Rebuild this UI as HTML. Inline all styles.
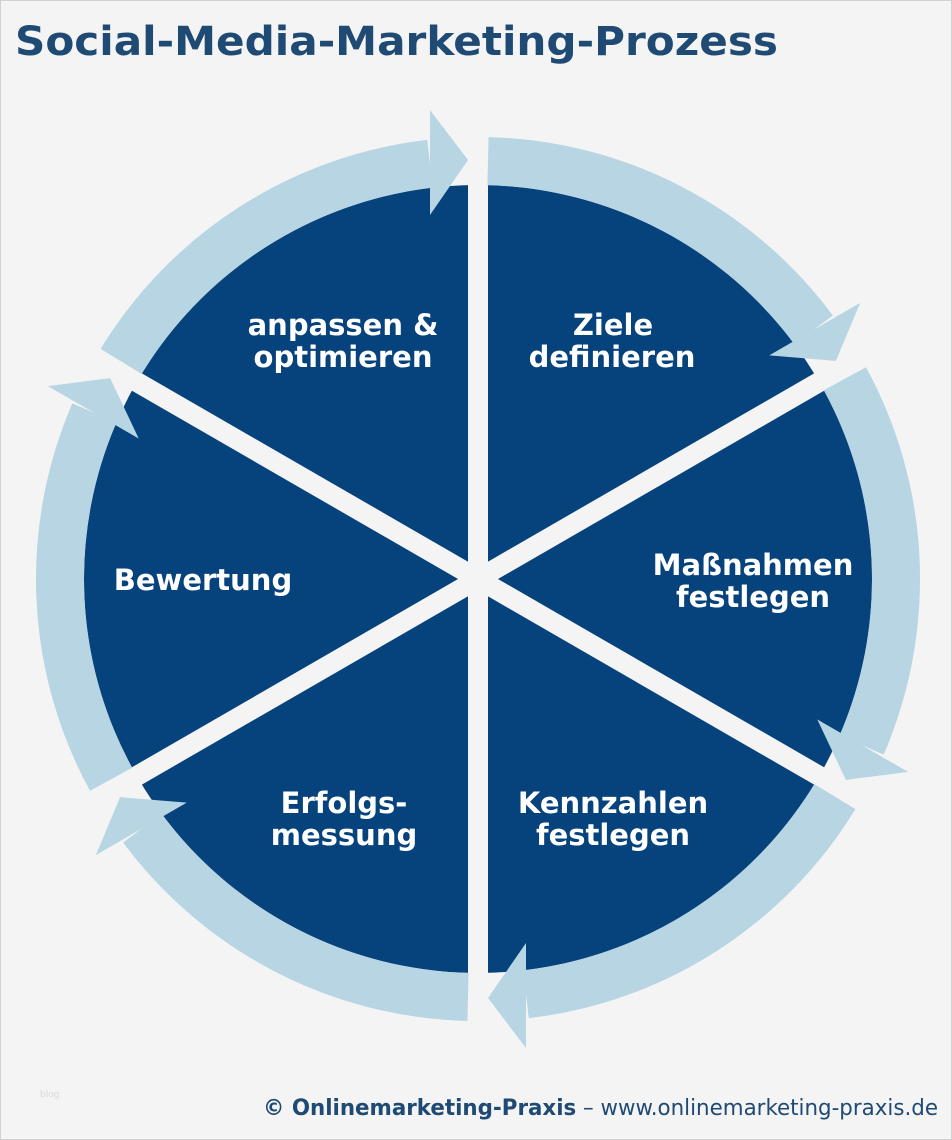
<!DOCTYPE html>
<html><head><meta charset="utf-8"><style>
html,body{margin:0;padding:0;background:#f4f4f4;}
svg{display:block;}
</style></head><body>
<svg width="952" height="1140" viewBox="0 0 952 1140" xmlns="http://www.w3.org/2000/svg">
<rect x="0.5" y="0.5" width="951" height="1139" fill="#f4f4f4" stroke="#d0d0d0"/>
<text x="15" y="55" font-family="DejaVu Sans, Liberation Sans, sans-serif" font-weight="bold" font-size="40" fill="#1f4a73" textLength="763" lengthAdjust="spacingAndGlyphs">Social-Media-Marketing-Prozess</text>
<circle cx="478" cy="579" r="394" fill="#06427c"/>
<g stroke="#f4f4f4" stroke-width="20">
<line x1="478" y1="579" x2="478" y2="100"/>
<line x1="478" y1="579" x2="478" y2="100" transform="rotate(60 478 579)"/>
<line x1="478" y1="579" x2="478" y2="100" transform="rotate(120 478 579)"/>
<line x1="478" y1="579" x2="478" y2="100" transform="rotate(180 478 579)"/>
<line x1="478" y1="579" x2="478" y2="100" transform="rotate(240 478 579)"/>
<line x1="478" y1="579" x2="478" y2="100" transform="rotate(300 478 579)"/>
</g>
<g fill="none" stroke="#b7d5e2" stroke-width="48">
<path d="M488,161.1 A418,418 0 0 1 813.6,329.8"/>
<path d="M488,161.1 A418,418 0 0 1 813.6,329.8" transform="rotate(60 478 579)"/>
<path d="M488,161.1 A418,418 0 0 1 813.6,329.8" transform="rotate(120 478 579)"/>
<path d="M488,161.1 A418,418 0 0 1 813.6,329.8" transform="rotate(180 478 579)"/>
<path d="M488,161.1 A418,418 0 0 1 813.6,329.8" transform="rotate(240 478 579)"/>
<path d="M488,161.1 A418,418 0 0 1 813.6,329.8" transform="rotate(300 478 579)"/>
</g>
<g fill="#b7d5e2">
<polygon points="430,110 468,160 430,215"/>
<polygon points="430,110 468,160 430,215" transform="rotate(60 478 579)"/>
<polygon points="430,110 468,160 430,215" transform="rotate(120 478 579)"/>
<polygon points="430,110 468,160 430,215" transform="rotate(180 478 579)"/>
<polygon points="430,110 468,160 430,215" transform="rotate(240 478 579)"/>
<polygon points="430,110 468,160 430,215" transform="rotate(300 478 579)"/>
</g>
<g font-family="DejaVu Sans, Liberation Sans, sans-serif" font-weight="bold" font-size="29" fill="#ffffff" text-anchor="middle">
<text x="343" y="335">anpassen &amp;</text>
<text x="343" y="367">optimieren</text>
<text x="613" y="335">Ziele</text>
<text x="612" y="367">definieren</text>
<text x="753" y="575">Maßnahmen</text>
<text x="753" y="607">festlegen</text>
<text x="613" y="813">Kennzahlen</text>
<text x="613" y="845">festlegen</text>
<text x="344" y="813">Erfolgs-</text>
<text x="344" y="845">messung</text>
<text x="203" y="590">Bewertung</text>
</g>
<text x="40" y="1097" font-family="DejaVu Sans, sans-serif" font-size="9" fill="#d8d8d8">blog</text>
<text x="263" y="1115" font-family="DejaVu Sans Condensed, DejaVu Sans, sans-serif" font-size="22" fill="#1f4a73" textLength="675" lengthAdjust="spacingAndGlyphs"><tspan font-weight="bold">© Onlinemarketing-Praxis</tspan> – www.onlinemarketing-praxis.de</text>
</svg>
</body></html>
